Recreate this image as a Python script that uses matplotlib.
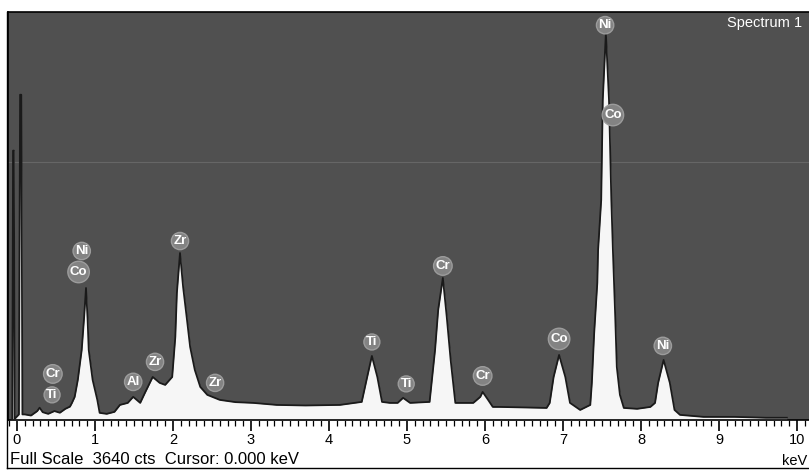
import numpy as np
import matplotlib.pyplot as plt
from matplotlib.ticker import MultipleLocator

plt.rcParams['font.family'] = ['Liberation Sans', 'DejaVu Sans']

# EDS spectrum outline (keV, counts)
energy_kev = [
    -0.06, -0.05, -0.04, -0.03, 0.025, 0.04, 0.055, 0.07, 0.10, 0.18, 0.26, 0.29, 0.33,
    0.40, 0.48, 0.55, 0.62, 0.68, 0.705, 0.74, 0.78, 0.83, 0.86, 0.885, 0.905,
    0.92, 0.97, 1.03, 1.06, 1.15, 1.25, 1.32, 1.42, 1.49, 1.58, 1.64, 1.74,
    1.83, 1.90, 1.99, 2.03, 2.05, 2.09, 2.13, 2.18, 2.22, 2.28, 2.35, 2.44,
    2.60, 2.80, 3.03, 3.33, 3.70, 4.14, 4.42, 4.49, 4.55, 4.62, 4.68, 4.78,
    4.88, 4.95, 5.04, 5.29, 5.36, 5.40, 5.46, 5.51, 5.56, 5.62, 5.85, 5.94,
    5.97, 6.04, 6.10, 6.19, 6.79, 6.83, 6.88, 6.95, 7.03, 7.09, 7.22, 7.35,
    7.37, 7.40, 7.44, 7.45, 7.49, 7.51, 7.55, 7.59, 7.62, 7.64, 7.67, 7.69,
    7.73, 7.78, 7.95, 8.12, 8.18, 8.22, 8.29, 8.37, 8.43, 8.50, 8.80, 9.20,
    9.60, 9.87,
]
counts = [
    0, 2400, 2400, 0, 40, 2900, 2900, 40, 40, 30, 70, 100, 60,
    45, 70, 55, 90, 110, 143, 197, 349, 617, 900, 1171, 900,
    617, 349, 170, 54, 45, 63, 125, 143, 197, 143, 232, 375,
    322, 304, 375, 733, 1126, 1484, 1180, 885, 644, 438, 286, 215,
    170, 150, 143, 125, 120, 125, 152, 375, 563, 375, 152, 143,
    143, 188, 143, 152, 617, 974, 1261, 912, 527, 143, 143, 197,
    241, 170, 107, 107, 98, 143, 375, 572, 375, 143, 80, 125,
    322, 769, 1216, 1511, 1958, 2852, 3451, 2852, 1958, 1511, 912, 465,
    215, 98, 90, 107, 143, 322, 527, 322, 80, 36, 18, 18,
    10, 10,
]

# peak labels (element, keV, counts where the badge sits)
label_names = ['Ni', 'Co', 'Cr', 'Ti', 'Al', 'Zr', 'Zr', 'Zr', 'Ti', 'Ti',
               'Cr', 'Cr', 'Co', 'Ni', 'Ni', 'Co']
label_kev = [0.83, 0.79, 0.46, 0.45, 1.49, 1.77, 2.09, 2.54, 4.55, 4.99,
             5.46, 5.97, 6.95, 8.28, 7.54, 7.64]
label_cts = [1502, 1314, 402, 215, 331, 510, 1591, 322, 688, 313,
             1368, 384, 715, 653, 3522, 2718]

full_scale = 3640

fig = plt.figure(figsize=(8.09, 4.70), dpi=100)
ax = fig.add_axes([8 / 809, 50 / 470, 801 / 809, 408 / 470])

ax.set_facecolor('#505050')
ax.fill_between(energy_kev, counts, -20, color='#f6f6f6', lw=0, zorder=2)
ax.plot(energy_kev, counts, color='#1a1a1a', lw=1.3, zorder=3)
ax.axhline(2298, color='#666666', lw=0.8, zorder=1)

for name, x, y in zip(label_names, label_kev, label_cts):
    ax.text(x, y, name, color='white', fontsize=9.5, fontweight='bold',
            ha='center', va='center', zorder=5,
            bbox=dict(boxstyle='circle,pad=0.15', fc='#838383', ec='#9c9c9c', lw=1.0))

ax.text(9.10, 3540, 'Spectrum 1', color='white', fontsize=10.5, ha='left', va='center',
        clip_on=True, zorder=5)

ax.set_xlim(-0.115, 10.154)
ax.set_ylim(-10, full_scale)
ax.set_yticks([])
ax.xaxis.set_major_locator(MultipleLocator(1))
ax.xaxis.set_minor_locator(MultipleLocator(0.1))
ax.tick_params(axis='x', which='major', direction='out', length=8, width=1.2,
               labelsize=10.5, pad=1)
ax.tick_params(axis='x', which='minor', direction='out', length=4, width=0.9)
for s in ax.spines.values():
    s.set_color('black')
    s.set_linewidth(1.2)
ax.spines['right'].set_visible(False)

fig.text(10 / 809, 1 - 460 / 470, 'Full Scale  3640 cts  Cursor: 0.000 keV',
         fontsize=12, ha='left', va='center')
fig.text(807 / 809, 1 - 461 / 470, 'keV', fontsize=10.5, ha='right', va='center')
fig.add_artist(plt.Line2D([7 / 809, 7 / 809], [2 / 470, 1 - 12 / 470], color='black', lw=1))
fig.add_artist(plt.Line2D([7 / 809, 1], [2 / 470, 2 / 470], color='black', lw=1))

fig.savefig('out.png', dpi=100)
